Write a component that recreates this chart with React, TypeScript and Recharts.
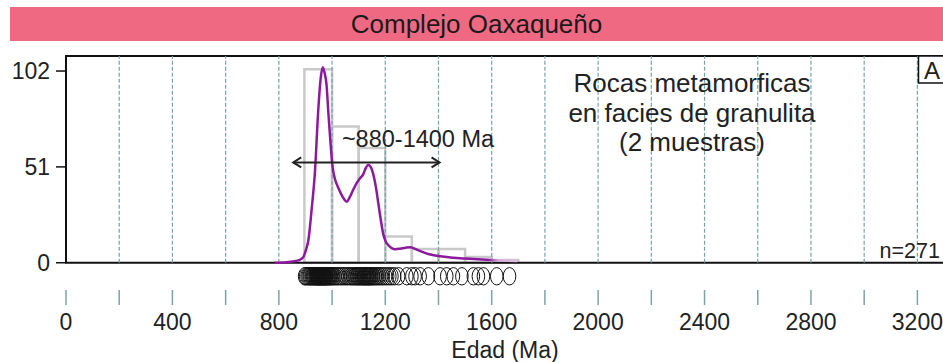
import React from 'react';
import {
  ComposedChart,
  Line,
  Scatter,
  XAxis,
  YAxis,
  ReferenceLine,
  ReferenceArea,
} from 'recharts';

const FONT = '"Liberation Sans", Arial, sans-serif';

// histogram bins (Ma) and counts
const binStarts = [896, 1000, 1100, 1200, 1300, 1400, 1500, 1600];
const binEnds = [1000, 1100, 1200, 1300, 1400, 1500, 1600, 1700];
const binCounts = [103, 72.5, 61, 14, 7.3, 7.3, 3, 1.5];

// probability density curve
const kdeAges = [
  784, 830, 864, 884, 892, 901, 911, 923, 936, 948, 958, 965, 972, 979, 986, 994, 1002,
  1012, 1023, 1040, 1055, 1067, 1080, 1093, 1105, 1117, 1127, 1136, 1145, 1155, 1165,
  1174, 1183, 1192, 1201, 1211, 1224, 1237, 1256, 1276, 1294, 1306, 1321, 1343, 1366,
  1406, 1457, 1497, 1547, 1597, 1647, 1697,
];
const kdeValues = [
  0, 0.3, 0.9, 2, 3, 6.5, 12, 28, 49, 81, 99, 104, 101, 95, 80, 64, 51,
  44, 40, 35, 32.5, 35, 39, 42.5, 45, 47, 50.5, 52, 51, 47, 40,
  31.5, 23, 15.5, 11.5, 9.4, 7.8, 7.2, 7.5, 8, 8.3, 7.8, 6.8, 5.6, 4.5,
  3.4, 2.7, 2.3, 1.8, 1.4, 1.1, 0.9,
];

// individual ages (circles under the axis)
const sampleAges = [
  897, 901, 906, 910, 914, 917, 921, 924, 927, 930, 933, 936, 938, 941, 943, 945, 947,
  949, 951, 953, 955, 957, 959, 961, 963, 965, 967, 969, 971, 973, 975, 977, 979, 982,
  985, 988, 991, 994, 998, 1002, 1007, 1012, 1018, 1024, 1031, 1038, 1045, 1052, 1059,
  1066, 1072, 1077, 1082, 1087, 1091, 1095, 1099, 1103, 1107, 1111, 1115, 1118, 1121,
  1124, 1127, 1130, 1133, 1136, 1139, 1142, 1145, 1149, 1153, 1157, 1162, 1167, 1173,
  1179, 1186, 1193, 1201, 1209, 1217, 1225, 1235, 1250, 1281, 1300, 1312, 1331, 1362,
  1406, 1431, 1456, 1488, 1531, 1550, 1569, 1619, 1667,
];
const circleRow = -7.2;

const xTicks = [0, 200, 400, 600, 800, 1000, 1200, 1400, 1600, 1800, 2000, 2200, 2400, 2600, 2800, 3000, 3200];
const gridAges = [200, 400, 600, 800, 1000, 1200, 1400, 1600, 1800, 2000, 2200, 2400, 2600, 2800, 3000, 3200];
const yTicks = [0, 51, 102];

const rangeStart = 854;
const rangeEnd = 1404;
const rangeLevel = 53.4;

const kdeData = kdeAges.map((age, i) => ({ age, v: kdeValues[i] }));
const circleData = sampleAges.map((age) => ({ age, v: circleRow }));

function DoubleArrow(props: any) {
  const { x1, y1, x2, y2 } = props;
  const h = 8;
  const w = 5;
  return (
    <g stroke="#222" strokeWidth={2} fill="none">
      <line x1={x1} y1={y1} x2={x2} y2={y2} />
      <path d={`M${x1 + h},${y1 - w} L${x1},${y1} L${x1 + h},${y1 + w}`} />
      <path d={`M${x2 - h},${y2 - w} L${x2},${y2} L${x2 - h},${y2 + w}`} />
    </g>
  );
}

export default function App() {
  return (
    <div
      style={{
        position: 'absolute',
        left: 0,
        top: 0,
        width: 943,
        height: 362,
        overflow: 'hidden',
        background: '#fff',
        fontFamily: FONT,
      }}
    >
      <div
        style={{
          position: 'absolute',
          left: 10,
          top: 7,
          width: 933,
          height: 34,
          background: '#F06983',
          color: '#1a1a1a',
          fontSize: 26,
          lineHeight: '34px',
          textAlign: 'center',
        }}
      >
        Complejo Oaxaqueño
      </div>

      <ComposedChart
        width={946}
        height={362}
        margin={{ top: 56, right: 2, bottom: 0, left: 0 }}
        style={{ position: 'absolute', left: 0, top: 0 }}
      >
        <defs>
          <linearGradient id="kdeTail" x1="0" y1="0" x2="1" y2="0">
            <stop offset="0%" stopColor="#8c1a9c" />
            <stop offset="88%" stopColor="#8c1a9c" />
            <stop offset="92%" stopColor="#d7a6d9" />
            <stop offset="100%" stopColor="#e2bde3" />
          </linearGradient>
        </defs>
        <XAxis
          type="number"
          dataKey="age"
          domain={[0, 3300]}
          ticks={xTicks}
          interval={0}
          allowDataOverflow
          axisLine={false}
          tickLine={{ stroke: '#7fa3a3', strokeWidth: 1.5 }}
          tickSize={15}
          tickMargin={9}
          height={72}
          tickFormatter={(v: number) => (v % 400 === 0 ? String(v) : '')}
          tick={{ fontSize: 23, fill: '#222', fontFamily: FONT }}
          label={{
            value: 'Edad (Ma)',
            position: 'insideBottom',
            offset: 4,
            fontSize: 23,
            fill: '#222',
            fontFamily: FONT,
          }}
        />
        <YAxis
          type="number"
          dataKey="v"
          domain={[-14.5, 110]}
          ticks={yTicks}
          interval={0}
          allowDataOverflow
          axisLine={false}
          tickLine={{ stroke: '#111', strokeWidth: 1.5 }}
          tickSize={10}
          tickMargin={6}
          width={66}
          tick={{ fontSize: 23, fill: '#222', fontFamily: FONT }}
        />

        {gridAges.map((a) => (
          <ReferenceLine
            key={`g${a}`}
            segment={[
              { x: a, y: 0 },
              { x: a, y: 110 },
            ]}
            stroke="#79a2a5"
            strokeWidth={1.2}
            strokeDasharray="4 2"
          />
        ))}

        {binStarts.map((s, i) => (
          <ReferenceArea
            key={`b${i}`}
            x1={s}
            x2={binEnds[i]}
            y1={0}
            y2={binCounts[i]}
            fill="none"
            fillOpacity={0}
            stroke="#c9c9c9"
            strokeWidth={2.5}
          />
        ))}

        <Line
          data={kdeData}
          dataKey="v"
          type="monotone"
          stroke="url(#kdeTail)"
          strokeWidth={2.5}
          dot={false}
          activeDot={false}
          isAnimationActive={false}
        />

        <Scatter
          data={circleData}
          dataKey="v"
          isAnimationActive={false}
          shape={(p: any) => (
            <ellipse cx={p.cx} cy={p.cy} rx={6.3} ry={8.7} fill="none" stroke="#111" strokeWidth={1} />
          )}
        />

        <ReferenceLine
          segment={[
            { x: rangeStart, y: rangeLevel },
            { x: rangeEnd, y: rangeLevel },
          ]}
          shape={DoubleArrow}
        />

        <ReferenceArea
          x1={0}
          x2={3300}
          y1={0}
          y2={110}
          fill="none"
          fillOpacity={0}
          stroke="#111"
          strokeWidth={2}
        />
      </ComposedChart>

      <svg
        width={943}
        height={362}
        style={{ position: 'absolute', left: 0, top: 0, pointerEvents: 'none' }}
        fontFamily={FONT}
      >
        <g fill="#222" fontSize={26} textAnchor="middle">
          <text x={692} y={91.5}>Rocas metamorficas</text>
          <text x={692} y={121.5}>en facies de granulita</text>
          <text x={692} y={150.5}>(2 muestras)</text>
        </g>
        <text x={418} y={146.5} fontSize={23.5} fill="#222" textAnchor="middle">
          ~880-1400 Ma
        </text>
        <text x={940} y={258} fontSize={21.5} fill="#222" textAnchor="end">
          n=271
        </text>
        <rect x={918.5} y={56} width={30} height={27} fill="#fff" stroke="#111" strokeWidth={1.5} />
        <text x={932} y={79} fontSize={24} fill="#222" textAnchor="middle">
          A
        </text>
      </svg>
    </div>
  );
}
